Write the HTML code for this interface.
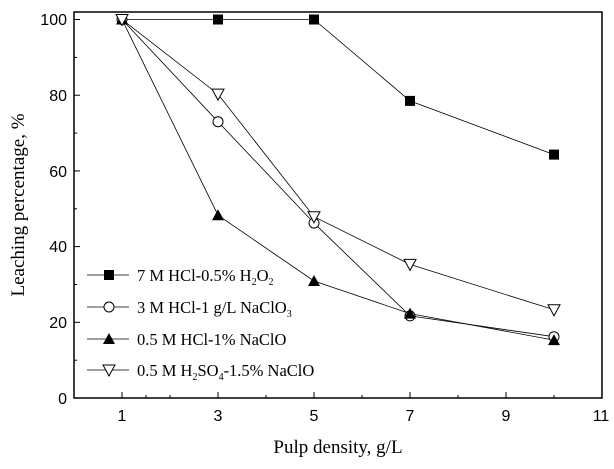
<!DOCTYPE html>
<html><head><meta charset="utf-8"><style>body{margin:0;background:#fff}</style></head><body>
<svg width="614" height="464" xmlns="http://www.w3.org/2000/svg" font-family="Liberation Sans, sans-serif">
<rect x="74" y="12" width="528" height="386" fill="none" stroke="#000" stroke-width="1.5"/>
<g stroke="#000" stroke-width="1">
<line x1="122" y1="398" x2="122" y2="392"/><line x1="146" y1="398" x2="146" y2="395"/>
<line x1="170" y1="398" x2="170" y2="395"/><line x1="218" y1="398" x2="218" y2="392"/>
<line x1="266" y1="398" x2="266" y2="395"/><line x1="314" y1="398" x2="314" y2="392"/>
<line x1="362" y1="398" x2="362" y2="395"/><line x1="410" y1="398" x2="410" y2="392"/>
<line x1="458" y1="398" x2="458" y2="395"/><line x1="506" y1="398" x2="506" y2="392"/>
<line x1="554" y1="398" x2="554" y2="395"/>
<line x1="74" y1="322.3" x2="80" y2="322.3"/><line x1="74" y1="246.6" x2="80" y2="246.6"/>
<line x1="74" y1="170.9" x2="80" y2="170.9"/><line x1="74" y1="95.2" x2="80" y2="95.2"/>
<line x1="74" y1="19.5" x2="80" y2="19.5"/>
<line x1="74" y1="360.2" x2="77" y2="360.2"/><line x1="74" y1="284.5" x2="77" y2="284.5"/>
<line x1="74" y1="208.8" x2="77" y2="208.8"/><line x1="74" y1="133.1" x2="77" y2="133.1"/>
<line x1="74" y1="57.4" x2="77" y2="57.4"/>
</g>
<g font-size="16" text-anchor="middle">
<text x="122" y="421">1</text><text x="218" y="421">3</text><text x="314" y="421">5</text>
<text x="410" y="421">7</text><text x="506" y="421">9</text><text x="601" y="421">11</text>
</g>
<g font-size="16" text-anchor="end">
<text x="67" y="404">0</text><text x="67" y="328">20</text><text x="67" y="252">40</text>
<text x="67" y="177">60</text><text x="67" y="101">80</text><text x="67" y="25">100</text>
</g>
<text x="338" y="453" font-family="Liberation Serif, serif" font-size="19" text-anchor="middle">Pulp density, g/L</text>
<text transform="translate(24,205) rotate(-90)" font-family="Liberation Serif, serif" font-size="19" text-anchor="middle">Leaching percentage, %</text>
<g fill="none" stroke="#000" stroke-width="0.8">
<polyline points="122,19.5 218,19.5 314,19.5 410,100.9 554,154.6"/>
<polyline points="122,19.5 218,121.7 314,223.1 410,315.9 554,336.7"/>
<polyline points="122,19.5 218,215.2 314,281.0 410,313.6 554,340.1"/>
<polyline points="122,19.5 218,94.1 314,216.7 410,264.4 554,309.8"/>
</g>
<g fill="#000">
<rect x="117" y="14.5" width="10" height="10"/><rect x="213" y="14.5" width="10" height="10"/><rect x="309" y="14.5" width="10" height="10"/><rect x="405" y="95.9" width="10" height="10"/><rect x="549" y="149.6" width="10" height="10"/>
</g>
<g fill="#fff" stroke="#000" stroke-width="1">
<circle cx="122" cy="19.5" r="5"/><circle cx="218" cy="121.7" r="5"/><circle cx="314" cy="223.1" r="5"/><circle cx="410" cy="315.9" r="5"/><circle cx="554" cy="336.7" r="5"/>
</g>
<g fill="#000">
<polygon points="122,13.5 116,24.5 128,24.5"/><polygon points="218,209.2 212,220.2 224,220.2"/><polygon points="314,275 308,286 320,286"/><polygon points="410,307.6 404,318.6 416,318.6"/><polygon points="554,334.1 548,345.1 560,345.1"/>
</g>
<g fill="#fff" stroke="#000" stroke-width="1">
<polygon points="122,25.5 116,14.5 128,14.5"/><polygon points="218,100.1 212,89.1 224,89.1"/><polygon points="314,222.7 308,211.7 320,211.7"/><polygon points="410,270.4 404,259.4 416,259.4"/><polygon points="554,315.8 548,304.8 560,304.8"/>
</g>
<g stroke="#000" stroke-width="0.8">
<line x1="87" y1="275" x2="129" y2="275"/><line x1="87" y1="307" x2="129" y2="307"/>
<line x1="87" y1="339" x2="129" y2="339"/><line x1="87" y1="370" x2="129" y2="370"/>
</g>
<rect x="104" y="270" width="10" height="10" fill="#000"/>
<circle cx="109" cy="307" r="5" fill="#fff" stroke="#000"/>
<polygon points="109,333 103,344 115,344" fill="#000"/>
<polygon points="109,376 103,365 115,365" fill="#fff" stroke="#000"/>
<g font-family="Liberation Serif, serif" font-size="16.5">
<text x="137" y="281">7 M HCl-0.5% H<tspan font-size="10" dy="4">2</tspan><tspan dy="-4">O</tspan><tspan font-size="10" dy="4">2</tspan></text>
<text x="137" y="313">3 M HCl-1 g/L NaClO<tspan font-size="10" dy="4">3</tspan></text>
<text x="137" y="345">0.5 M HCl-1% NaClO</text>
<text x="137" y="376">0.5 M H<tspan font-size="10" dy="4">2</tspan><tspan dy="-4">SO</tspan><tspan font-size="10" dy="4">4</tspan><tspan dy="-4">-1.5% NaClO</tspan></text>
</g>
</svg>
</body></html>
